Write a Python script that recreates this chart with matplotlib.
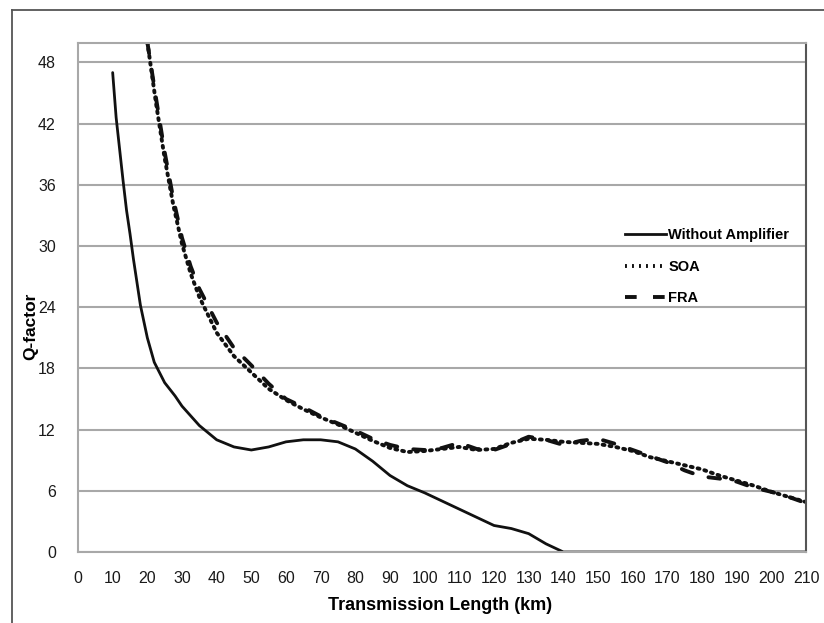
import numpy as np
import matplotlib.pyplot as plt
from matplotlib.lines import Line2D
from matplotlib import font_manager

# Q-factor vs transmission length
without_km = [10, 11, 12, 13, 14, 15, 16, 18, 20, 22, 25, 28, 30, 35, 40, 45, 50, 55, 60, 65,
              70, 75, 80, 85, 90, 95, 100, 105, 110, 115, 120, 125, 130, 135, 140, 210]
without_q = [47, 42.6, 39.5, 36.4, 33.5, 31.2, 28.7, 24.2, 21.0, 18.6, 16.6, 15.3, 14.3, 12.4, 11.0,
             10.3, 10.0, 10.3, 10.8, 11.0, 11.0, 10.8, 10.1, 8.9, 7.5, 6.5, 5.8, 5.0, 4.2, 3.4,
             2.6, 2.3, 1.8, 0.8, 0.0, 0.0]

amp_km = [20, 22.5, 25, 27.5, 30, 32.5, 35, 40, 45, 50, 55, 60, 65, 70, 75, 80, 85, 90, 95,
          100, 105, 110, 115, 120, 125, 130, 135, 140, 145, 150, 155, 160, 165, 170, 175, 180,
          185, 190, 195, 200, 205, 210]
fra_q = [50, 44.5, 39.2, 34.6, 30.8, 28.0, 25.8, 22.5, 20.0, 18.3, 16.5, 15.0, 14.2, 13.3, 12.6,
         11.9, 11.1, 10.5, 10.1, 10.0, 10.2, 10.7, 10.1, 10.0, 10.6, 11.3, 11.0, 10.5, 10.9, 11.1,
         10.6, 10.0, 9.4, 8.8, 8.0, 7.4, 7.2, 6.9, 6.3, 5.9, 5.4, 4.8]
soa_q = [50, 44.0, 38.6, 34.0, 30.2, 27.3, 25.0, 21.5, 19.2, 17.6, 16.0, 14.9, 14.0, 13.2, 12.5,
         11.7, 10.9, 10.2, 9.8, 9.9, 10.1, 10.3, 10.0, 10.1, 10.7, 11.1, 11.0, 10.8, 10.7, 10.6,
         10.3, 9.9, 9.3, 8.9, 8.5, 8.1, 7.5, 7.0, 6.5, 5.9, 5.4, 4.9]

x_ticks = list(range(0, 211, 10))
y_ticks = list(range(0, 49, 6))

names = [f.name for f in font_manager.fontManager.ttflist]
narrow = 'Liberation Sans Narrow' if 'Liberation Sans Narrow' in names else 'Liberation Sans'
plt.rcParams['font.family'] = [narrow, 'DejaVu Sans']

fig = plt.figure(figsize=(8.24, 6.23), dpi=100)
ax = fig.add_axes([78 / 824, 1 - 552 / 623, (806 - 78) / 824, (552 - 43) / 623])

ax.plot(without_km, without_q, color='#111111', lw=2.0, solid_capstyle='round')
ax.plot(amp_km, soa_q, color='#111111', lw=2.8, linestyle=(0, (0.5, 1.3)), dash_capstyle='round')
ax.plot(amp_km, fra_q, color='#111111', lw=2.8, linestyle=(0, (3.0, 4.2)), dash_capstyle='round')

ax.set_xlim(0, 210)
ax.set_ylim(0, 49.9)
ax.set_xticks(x_ticks)
ax.set_yticks(y_ticks)
ax.tick_params(length=0, labelsize=11.5, colors='#1a1a1a')
ax.tick_params(axis='x', pad=14)
ax.tick_params(axis='y', pad=16)
ax.grid(True, axis='y', color='#a8a8a8', lw=1.5)
ax.set_axisbelow(True)
for s in ['left', 'bottom', 'top']:
    ax.spines[s].set_color('#a8a8a8')
    ax.spines[s].set_linewidth(1.5)
ax.spines['right'].set_color('#555555')
ax.spines['right'].set_linewidth(1.5)

fig.text(440 / 824, 1 - 606 / 623, 'Transmission Length (km)', ha='center', va='center',
         fontsize=13, fontweight='bold')
fig.text(31 / 824, 1 - 326 / 623, 'Q-factor', ha='center', va='center', rotation=90,
         fontsize=12.5, fontweight='bold')

handles = [Line2D([], [], color='#111111', lw=2.0),
           Line2D([], [], color='#111111', lw=2.8, linestyle=(0, (0.5, 1.3))),
           Line2D([], [], color='#111111', lw=2.8, linestyle=(0, (3.0, 4.2)))]
fig.legend(handles, ['Without Amplifier', 'SOA', 'FRA'], loc='upper left',
           bbox_to_anchor=(612 / 824, 1 - 215 / 623), frameon=False,
           prop={'size': 10.5, 'weight': 'bold'}, handlelength=2.8, handletextpad=0.15,
           labelspacing=1.2)

# outer frame of the original figure
fig.add_artist(Line2D([12 / 824, 12 / 824], [0, 1 - 10 / 623], color='#555555', lw=1.3))
fig.add_artist(Line2D([12 / 824, 1], [1 - 10 / 623, 1 - 10 / 623], color='#555555', lw=1.3))

fig.savefig('out.png', dpi=100)
